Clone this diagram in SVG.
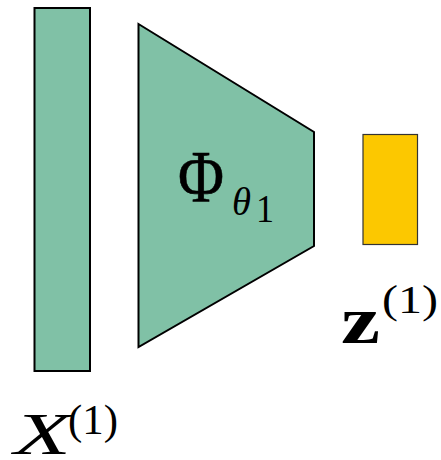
<svg xmlns="http://www.w3.org/2000/svg" width="441" height="460" viewBox="0 0 441 460">
<style>
.g{fill:#80C1A6;stroke:#000;stroke-width:2;stroke-linejoin:miter}
.y{fill:#FCC800;stroke:#333;stroke-width:1.2}
.t{font-family:"Liberation Serif","DejaVu Serif",serif;fill:#000}
</style>
<rect width="441" height="460" fill="#fff"/>
<g id="input"><rect class="g" x="34.5" y="8" width="55.5" height="363"/></g>
<g id="encoder"><polygon class="g" points="138.5,24 314,132 314,246 138.5,347"/></g>
<g id="latent"><rect class="y" x="363" y="134.5" width="54.5" height="110"/></g>
<g id="connectors"></g>
<g id="labels">
<text class="t" x="178" y="202" font-size="74" textLength="46" lengthAdjust="spacingAndGlyphs" stroke="#000" stroke-width="0.6">Φ</text>
<text class="t" x="232" y="215" font-size="40" font-style="italic" textLength="19" lengthAdjust="spacingAndGlyphs">θ</text>
<text class="t" x="256" y="222" font-size="40" textLength="18" lengthAdjust="spacingAndGlyphs">1</text>
<text class="t" x="341" y="343" font-size="68" font-weight="bold" textLength="39" lengthAdjust="spacingAndGlyphs">z</text>
<text class="t" x="382" y="313" font-size="40" textLength="56" lengthAdjust="spacingAndGlyphs">(1)</text>
<text class="t" x="14" y="454" font-size="60" font-style="italic" textLength="57" lengthAdjust="spacingAndGlyphs">X</text>
<text class="t" x="68" y="434" font-size="42" textLength="50" lengthAdjust="spacingAndGlyphs">(1)</text>
</g>
</svg>
